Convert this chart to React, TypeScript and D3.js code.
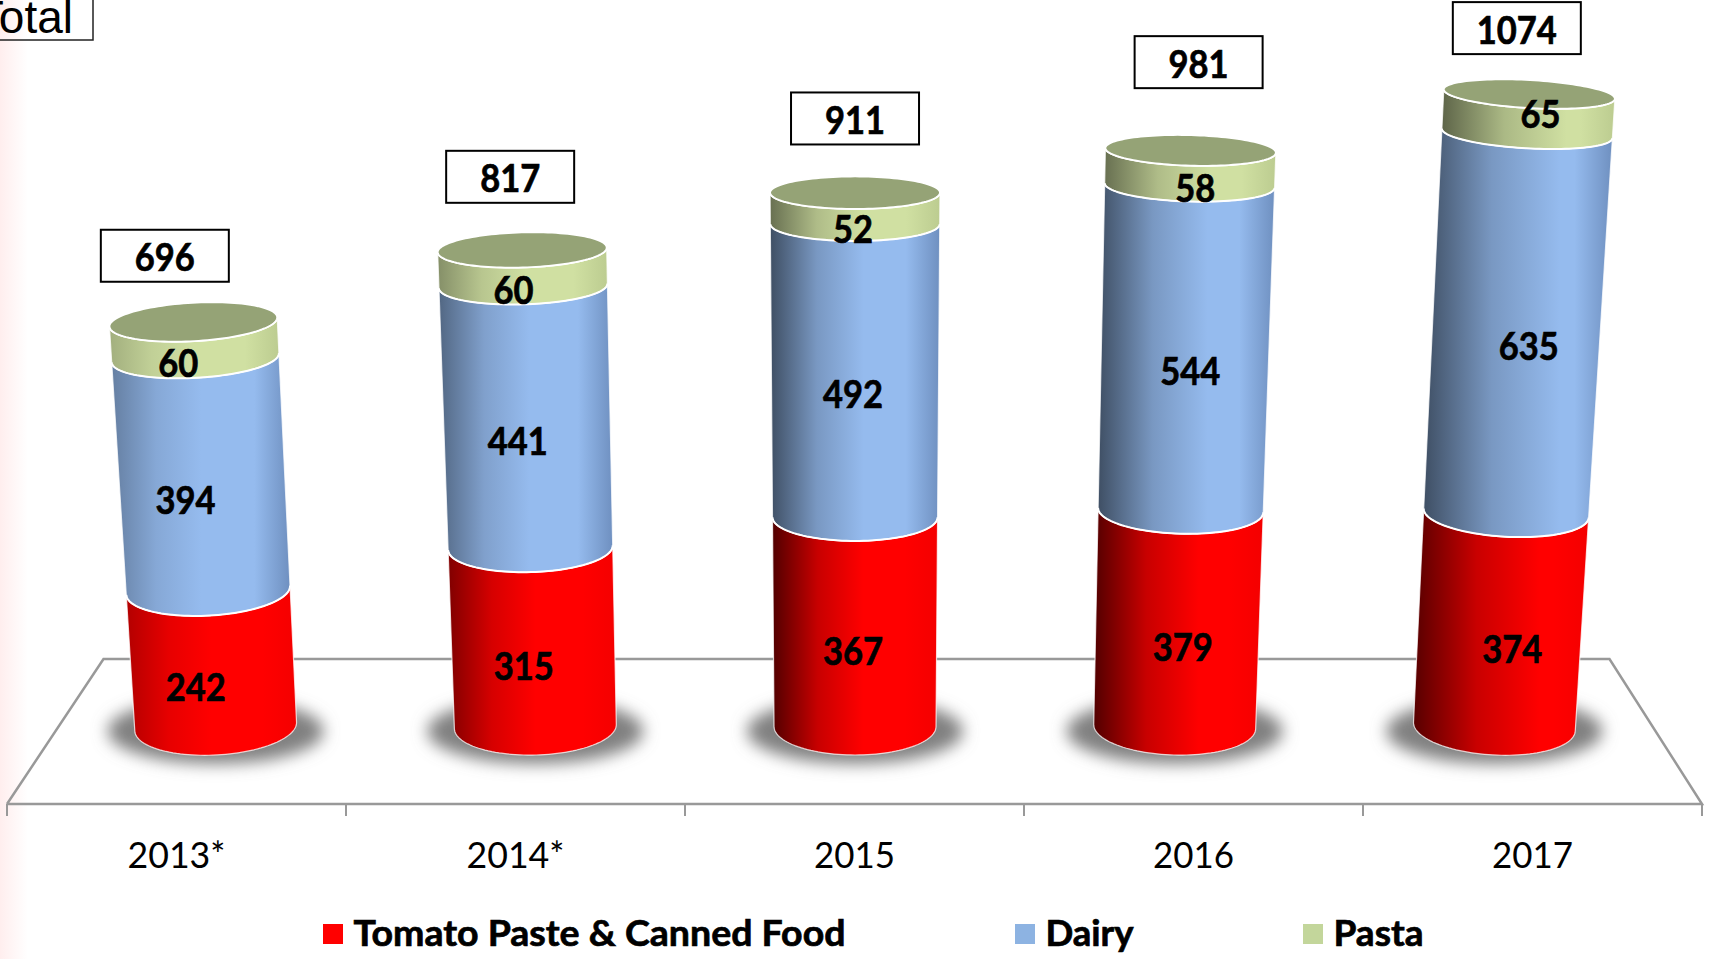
import React from "react";
import * as d3 from "d3";

const categories = ["2013*", "2014*", "2015", "2016", "2017"];
const tomato = [242, 315, 367, 379, 374];
const dairy = [394, 441, 492, 544, 635];
const pasta = [60, 60, 52, 58, 65];
const totals = [696, 817, 911, 981, 1074];
const seriesNames = ["Tomato Paste & Canned Food", "Dairy", "Pasta"];
const seriesValues = [tomato, dairy, pasta];
const legendColors = ["#ff0000", "#8db3e2", "#c3d69b"];

const W = 1709, H = 959;
const FONT = "Lato, 'Open Sans', sans-serif";

const leftDarkness = [
  [0.3, 0.5, 0.68, 0.68, 0.66],
  [0.32, 0.45, 0.58, 0.58, 0.58],
  [0.22, 0.36, 0.5, 0.5, 0.55],
];
const brightAt = [0.5, 0.52, 0.55, 0.62, 0.72];
const brights = ["#ff0000", "#95bbee", "#d0e0a2"];
const edgesRight = ["#f40000", "#6f90c0", "#bccc90"];
const topColor = "#95a376";

const boxOffsets = [
  { dx: -28.5, gap: 21 }, { dx: -12, gap: 29 }, { dx: 0, gap: 32 }, { dx: 8, gap: 47 }, { dx: -12.5, gap: 26 },
];
const labelRaise = [1, 2.5, 4.5];
const labelTweak = [0, 0, 0, 0, -18]; // pasta label of the last column sits higher

const axisX = d3.scaleBand<string>().domain(categories).range([7, 1702]);
const yFront = d3.scalePow().exponent(1.03).domain([0, 1074]).range([755, 108]);
const baseFront = yFront(0);

const depth = (x: number) => 855.5 + (x - 855) * 0.943;
const hOf = (v: number) => baseFront - yFront(v);
const ryOf = (h: number) => 28.5 - 0.0225 * h;
const rxOf = (h: number) => 81 + 0.0072 * h;
const cxOf = (i: number, h: number) => depth(axisX(categories[i])! + axisX.bandwidth() / 2) + (i - 2) * 0.027 * h;
const cyOf = (v: number) => yFront(v) - ryOf(hOf(v));

const rimPoint = (i: number, v: number, t: number): [number, number] => {
  const h = hOf(v), rx = rxOf(h), ry = ryOf(h), th = ((i - 2) * 1.6 * Math.PI) / 180;
  const a = rx * Math.cos(t), b = ry * Math.sin(t);
  return [cxOf(i, h) + a * Math.cos(th) - b * Math.sin(th), cyOf(v) + a * Math.sin(th) + b * Math.cos(th)];
};

const line = d3.line();
const sweep = d3.range(0, 61).map((k) => (k / 60) * Math.PI);

function segmentPath(i: number, v0: number, v1: number) {
  const top = sweep.map((t) => rimPoint(i, v1, t));
  const bottom = sweep.slice().reverse().map((t) => rimPoint(i, v0, t));
  return line([...top, ...bottom])! + "Z";
}
function frontArc(i: number, v: number) {
  return line(sweep.map((t) => rimPoint(i, v, t)))!;
}
function capPath(i: number, v: number) {
  const pts = d3.range(0, 121).map((k) => rimPoint(i, v, (k / 120) * 2 * Math.PI));
  return line(pts)! + "Z";
}
const mix = (c: string, k: number) => d3.interpolateRgb(c, "#000000")(k);

function Fit({ x, y, w, size, weight, anchor, heavy, children }: any) {
  return (
    <text x={x} y={y} fontSize={size} fontWeight={weight} fontFamily={FONT} textAnchor={anchor ?? "middle"} fill="#000"
      stroke={heavy ? "#000" : "none"} strokeWidth={heavy ? 0.7 : 0}
      textLength={w} lengthAdjust="spacingAndGlyphs">
      {children}
    </text>
  );
}

export default function App() {
  const ticks = d3.range(0, categories.length + 1).map((k) => (k < categories.length ? axisX(categories[k])! : 1702));
  const floorTop = 659, floorBottom = 804;
  const floorPts: [number, number][] = [[7, floorBottom], [103.5, floorTop], [1609.5, floorTop], [1702, floorBottom], [7, floorBottom]];
  return (
    <svg width={W} height={H} viewBox={`0 0 ${W} ${H}`} style={{ position: "fixed", left: 0, top: 0, background: "#fff" }}>
      <defs>
        <linearGradient id="edge" x1="0" x2="1" y1="0" y2="0">
          <stop offset="0" stopColor="#ffeeee" />
          <stop offset="1" stopColor="#ffffff" />
        </linearGradient>
        <filter id="blur" x="-30%" y="-50%" width="160%" height="200%">
          <feGaussianBlur stdDeviation="8" />
        </filter>
        {categories.map((_, i) =>
          brights.map((b, s) => {
            const d = leftDarkness[s][i];
            return (
              <linearGradient key={`${i}-${s}`} id={`g${i}-${s}`} x1="0" x2="1" y1="0" y2="0">
                <stop offset="0" stopColor={mix(b, d)} />
                <stop offset={brightAt[i] * 0.5} stopColor={mix(b, d * 0.32)} />
                <stop offset={brightAt[i]} stopColor={b} />
                <stop offset={Math.max(0.8, brightAt[i] + 0.08)} stopColor={b} />
                <stop offset="1" stopColor={edgesRight[s]} />
              </linearGradient>
            );
          })
        )}
      </defs>
      <rect x={0} y={0} width={W} height={H} fill="#fff" />
      <rect x={0} y={0} width={28} height={H} fill="url(#edge)" />

      {/* cut-off heading box */}
      <rect x={-10} y={-10} width={103} height={50} fill="none" stroke="#222" strokeWidth={1.5} />
      <text x={73} y={33} fontSize={46} fontFamily="'Liberation Sans', Arial, sans-serif" textAnchor="end" fill="#000">Total</text>

      {/* floor and axis */}
      <path d={line(floorPts)!} fill="none" stroke="#999" strokeWidth={2.5} />
      {ticks.map((x, k) => (
        <line key={k} x1={x} x2={x} y1={floorBottom} y2={floorBottom + 12} stroke="#999" strokeWidth={2} />
      ))}
      {categories.map((c) => (
        <Fit key={c} x={axisX(c)! + axisX.bandwidth() / 2} y={868} w={c.length > 4 ? 98 : 81} size={37} weight={400}>{c}</Fit>
      ))}

      {/* shadows */}
      {categories.map((_, i) => (
        <ellipse key={i} cx={cxOf(i, 0)} cy={731} rx={108} ry={33} fill="#808080" filter="url(#blur)" />
      ))}

      {/* cylinders */}
      {categories.map((_, i) => {
        let acc = 0;
        const parts = seriesValues.map((vals, s) => {
          const v0 = acc;
          acc += vals[i];
          return (
            <g key={s}>
              <path d={segmentPath(i, v0, acc)} fill={`url(#g${i}-${s})`} stroke="#fff" strokeOpacity={0.75} strokeWidth={1.2} strokeLinejoin="round" />
            </g>
          );
        });
        let acc2 = 0;
        const arcs = seriesValues.map((vals, s) => {
          acc2 += vals[i];
          return <path key={s} d={frontArc(i, acc2)} fill="none" stroke="#fff" strokeWidth={2} />;
        });
        return (
          <g key={i}>
            {parts}
            {arcs}
            <path d={capPath(i, acc)} fill={topColor} stroke="#fff" strokeWidth={1.8} />
          </g>
        );
      })}

      {/* value labels */}
      {categories.map((_, i) => {
        let acc = 0;
        return seriesValues.map((vals, s) => {
          const mid = acc + vals[i] / 2;
          acc += vals[i];
          const x = cxOf(i, hOf(mid)) - 2 + (i - 2) * 6.5 * 1.09;
          const y = yFront(mid) + 13.5 + labelRaise[s] + (s === 2 ? labelTweak[i] : 0);
          return <Fit key={`${i}-${s}`} x={x} y={y} w={vals[i] >= 100 ? 60 : 40} size={38} weight={700} heavy>{vals[i]}</Fit>;
        });
      })}

      {/* total boxes */}
      {categories.map((_, i) => {
        const h = hOf(totals[i]);
        const topBack = cyOf(totals[i]) - ryOf(h);
        const cx = cxOf(i, h) + boxOffsets[i].dx;
        const bw = 128, bh = 52;
        const by = topBack - boxOffsets[i].gap - bh;
        return (
          <g key={i}>
            <rect x={cx - bw / 2} y={by} width={bw} height={bh} fill="#fff" stroke="#000" strokeWidth={2} />
            <Fit x={cx} y={by + 41.5} w={totals[i] >= 1000 ? 80 : 60} size={38} weight={700} heavy>{totals[i]}</Fit>
          </g>
        );
      })}

      {/* legend */}
      {seriesNames.map((n, s) => {
        const sx = d3.scaleOrdinal<string, number>().domain(seriesNames).range([323, 1015, 1303]);
        const widths = [492, 88, 90];
        const x = sx(n);
        return (
          <g key={n}>
            <rect x={x} y={924} width={20} height={20} fill={legendColors[s]} />
            <Fit x={x + 30.5} y={946} w={widths[s]} size={37} weight={700} anchor="start" heavy>{n}</Fit>
          </g>
        );
      })}
    </svg>
  );
}
